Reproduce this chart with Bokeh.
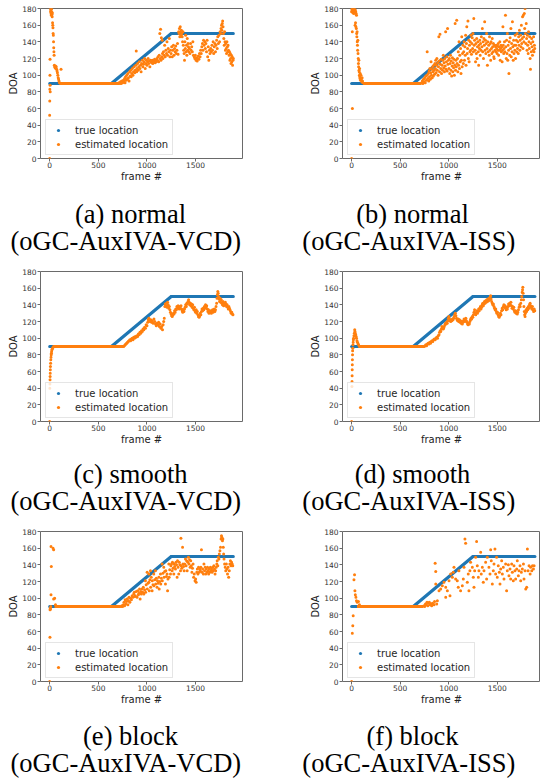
from bokeh.plotting import figure
from bokeh.models import Range1d, Legend, LegendItem, Title, FixedTicker
from bokeh.layouts import column, row
from bokeh.embed import file_html
from bokeh.resources import INLINE

BLUE = "#1f77b4"
ORANGE = "#ff7f0e"

# ---------------- data ----------------
x_ticks = [0, 500, 1000, 1500]
y_ticks = [0, 20, 40, 60, 80, 100, 120, 140, 160, 180]

true_frames = [0, 635, 1250, 1888]
true_doa = [90, 90, 150, 150]

# flat runs of the estimate at 90 deg: (start frame, end frame, value)
flat_a = (100, 715, 90)
flat_b = (118, 720, 90)
flat_c = (40, 755, 90)
flat_d = (80, 745, 90)
flat_e = (50, 730, 90)
flat_f = (55, 740, 90)

est_a = [(0,0),(0,52),(1,69),(2,83),(3,100),(4,119),(5,88),(6,80),(8,180),(10,176),(12,178),(14,174),(16,179),(18,172),(20,176),(22,180),(24,173),(26,170),(28,175),(30,163),(32,160),(34,157),(36,150),(38,148),(40,140),(42,133),(44,128),(46,124),(48,112),(52,110),(56,109),(60,111),(64,108),(68,110),(72,107),(76,105),(80,103),(84,100),(88,97),(92,95),(96,93),(100,91),(117,107),
(712,91),(720,90),(728,92),(735,90),(742,93),(750,91),(758,94),
(765,92),(770,96),(775,91),(780,98),(786,94),(792,100),(798,95),(804,102),(810,97),(816,93),(822,104),(828,99),
(834,106),(838,98),(844,102),(850,108),(856,100),(862,104),(868,110),(874,103),(880,106),(886,112),(890,129),(894,104),(898,108),
(904,114),(910,106),(916,110),(922,116),(928,108),(934,112),(940,104),(946,114),(952,118),(958,110),(964,113),
(970,116),(976,120),(982,108),(988,114),(994,118),(1000,112),(1006,116),(1012,120),(1018,114),(1024,117),(1030,110),(1036,118),
(1042,116),(1048,115),(1054,118),(1060,114),(1066,117),(1072,116),(1078,119),(1084,115),(1090,118),(1096,116),(1102,120),
(1108,118),(1114,122),(1120,116),(1126,124),(1132,150),(1136,120),(1140,155),(1144,118),(1148,145),(1152,122),(1156,142),(1160,126),
(1164,120),(1170,128),(1176,124),(1182,136),(1188,122),(1194,130),(1200,126),(1206,140),(1212,124),(1218,132),(1224,128),(1230,144),(1236,122),(1242,130),
(1248,126),(1254,134),(1260,122),(1266,130),(1272,136),(1278,124),(1284,132),(1290,128),(1296,135),(1302,126),(1308,130),(1314,138),(1320,125),(1326,152),
(1330,150),(1334,156),(1338,146),(1342,158),(1346,152),(1350,148),(1354,154),(1358,150),(1362,146),(1366,140),(1370,152),(1374,136),(1378,130),
(1382,126),(1386,118),(1390,140),(1394,132),(1398,148),(1402,128),(1406,136),(1410,124),(1414,144),(1418,130),(1422,138),(1426,134),(1430,128),
(1436,132),(1442,126),(1448,138),(1454,130),(1460,134),(1466,128),(1472,140),(1478,124),
(1486,122),(1492,120),(1498,124),(1504,118),(1510,121),(1516,117),(1522,120),(1528,123),(1534,119),(1540,126),(1546,122),
(1552,130),(1558,126),(1564,134),(1570,138),(1576,130),(1582,142),(1588,136),(1594,140),(1600,132),
(1606,138),(1612,128),(1618,142),(1624,122),(1630,134),(1636,118),(1642,130),(1648,126),
(1656,132),(1662,128),(1668,136),(1674,130),(1680,140),(1686,126),(1692,134),(1698,138),(1704,128),
(1710,136),(1716,142),(1722,132),(1728,146),(1734,138),(1740,148),(1746,140),(1752,152),
(1758,150),(1762,156),(1766,160),(1770,154),(1774,162),(1778,165),(1782,158),(1786,150),(1790,144),(1794,136),(1798,152),(1802,140),(1806,130),
(1810,138),(1814,132),(1818,126),(1822,140),(1826,134),(1830,128),(1834,136),(1838,130),
(1844,124),(1848,128),(1852,118),(1856,126),(1860,120),(1864,114),(1868,124),(1872,116),(1876,122),(1880,112),(1884,118),(1888,120)]

est_b = [(0,0),(8,60),(7,152),(0,176),(2,180),(4,178),(6,176),(8,179),(10,180),(12,177),(14,175),(16,178),(18,180),(20,176),(22,174),(24,178),(26,180),(28,177),(30,175),(32,179),(34,176),(36,160),(38,178),(40,163),(42,176),(44,158),(46,174),(48,156),(50,172),(52,150),(54,146),(56,152),(58,140),(60,136),(62,130),(64,142),(66,126),(68,120),(70,114),(72,110),(74,118),(76,106),(78,104),(80,100),(82,108),(84,98),(86,96),(88,102),(92,94),(96,100),(100,95),(104,92),(108,97),(112,93),(116,91),
(722,91),(728,93),(734,90),(740,95),(746,92),(752,97),(758,91),(764,99),(770,94),(776,100),(778,128),(784,96),(790,102),
(794,93),(798,105),(802,98),(806,108),(810,95),(814,103),(818,116),(822,100),(826,107),(830,97),(834,110),(838,104),(842,99),(846,112),(850,106),(854,101),(858,114),
(862,108),(866,118),(870,103),(874,112),(878,120),(882,106),(886,115),(890,100),(894,110),(898,146),(902,117),(906,104),(910,149),(914,113),(918,108),(922,119),(926,102),
(932,112),(936,106),(940,118),(944,124),(948,109),(952,115),(956,104),(960,120),(964,111),(968,152),(972,107),(976,116),(980,122),(984,105),(988,156),(992,113),(996,118),
(1002,108),(1006,120),(1010,102),(1014,114),(1018,124),(1022,106),(1026,117),(1030,99),(1034,111),(1038,121),(1042,104),(1046,115),(1050,109),(1054,119),(1058,100),(1062,112),(1066,162),(1070,106),(1074,118),(1078,110),(1082,166),(1086,114),
(1090,120),(1094,104),(1098,128),(1102,112),(1106,140),(1110,108),(1114,124),(1118,116),(1122,132),(1126,102),(1130,118),(1134,146),(1138,110),(1142,126),(1146,136),(1150,114),
(1154,128),(1158,140),(1162,118),(1166,134),(1170,124),(1174,148),(1178,112),(1182,138),(1186,158),(1190,126),(1194,132),(1198,165),(1202,120),(1206,142),(1210,116),(1214,136),(1218,128),
(1222,140),(1226,130),(1230,148),(1234,125),(1238,138),(1242,145),(1246,132),(1250,150),(1254,128),(1258,168),(1262,136),(1266,142),
(1272,130),(1276,116),(1280,138),(1284,126),(1288,144),(1292,120),(1296,134),(1300,140),(1304,128),(1308,112),(1312,136),(1316,132),(1320,142),(1324,124),(1328,138),(1332,130),(1336,146),
(1342,134),(1346,156),(1350,128),(1354,140),(1358,120),(1362,144),(1366,136),(1370,164),(1374,130),(1378,142),(1382,126),(1386,138),(1390,150),(1394,132),(1398,112),(1402,140),(1406,128),
(1412,136),(1416,124),(1420,146),(1424,130),(1428,138),(1432,118),(1436,140),(1440,132),(1444,126),(1448,144),(1452,134),(1456,128),(1460,138),(1464,122),(1468,120),(1472,136),(1476,130),
(1482,134),(1486,128),(1490,136),(1494,132),(1498,126),(1502,135),(1506,130),(1510,138),(1514,124),(1518,134),(1522,130),(1526,140),(1530,118),(1534,132),(1538,136),(1542,128),(1546,134),(1550,116),(1554,130),(1558,158),(1562,136),(1566,126),(1570,132),(1574,140),(1578,128),
(1584,172),(1588,134),(1592,120),(1596,142),(1600,126),(1604,150),(1608,118),(1612,136),(1616,130),(1620,102),(1624,140),(1628,124),(1632,145),(1636,132),(1640,156),(1644,122),(1648,138),(1652,128),(1656,164),(1660,134),(1664,118),(1668,142),(1672,126),(1676,136),(1680,130),(1684,148),(1688,120),
(1692,136),(1696,142),(1700,128),(1704,150),(1708,132),(1712,140),(1716,126),(1720,146),(1724,136),(1728,154),(1732,130),(1736,142),(1740,148),(1744,134),(1748,160),(1752,138),(1756,144),(1760,170),(1764,132),(1768,172),(1772,146),(1774,140),
(1778,174),(1782,156),(1786,180),(1790,150),(1794,138),(1798,162),(1802,144),(1806,130),(1810,148),(1814,136),(1818,126),(1822,152),(1826,140),(1830,132),(1834,146),(1838,120),(1842,107),(1846,138),(1850,128),(1854,144),(1858,134),(1862,124),(1866,140),(1870,130),(1874,146),(1878,128),(1882,136),(1886,132)]

est_c = [(0,0),(2,40),(3,45),(4,50),(5,54),(6,58),(7,62),(8,66),(10,70),(12,74),(14,77),(16,80),(18,82),(20,84),(23,86),(26,87),(30,88),(35,89),(40,90),
(760,90),(768,91),(776,92),(784,93),(792,94),(800,95),(808,96),(816,97),(824,98),(832,97),(840,99),(848,100),(856,98),(864,101),(872,100),(880,102),(888,101),(896,103),(904,102),(912,105),(920,104),(928,107),(936,106),(944,109),(952,108),(960,111),(968,110),(976,113),(984,112),(992,116),(1000,115),(1008,119),(1014,122),(1020,124),(1026,121),(1032,120),(1040,122),(1048,119),(1056,121),(1064,118),(1072,123),(1080,120),(1088,117),(1096,115),(1104,118),(1112,116),(1120,119),(1128,114),(1136,117),(1144,112),(1152,114),(1160,110),(1166,116),(1172,120),(1178,124),(1184,138),(1188,141),(1194,139),(1200,142),(1206,137),(1212,143),(1218,140),(1224,136),(1230,138),(1236,134),(1242,131),(1248,129),(1254,127),(1260,126),(1266,128),(1272,130),(1278,129),(1284,133),(1290,131),(1296,135),(1302,134),(1308,138),(1314,136),(1320,139),(1326,137),(1332,135),(1338,138),(1344,136),(1350,139),(1356,135),(1362,133),(1368,131),(1374,134),(1380,132),(1386,135),(1392,137),(1398,140),(1404,138),(1410,142),(1416,141),(1422,144),(1428,146),(1434,143),(1440,140),(1446,142),(1452,139),(1458,141),(1464,137),(1470,140),(1476,136),(1482,134),(1488,137),(1494,133),(1500,131),(1506,134),(1512,130),(1518,132),(1524,128),(1530,126),(1536,125),(1542,127),(1548,130),(1554,128),(1560,132),(1566,135),(1572,133),(1578,136),(1584,134),(1590,138),(1596,136),(1602,140),(1608,137),(1614,139),(1620,135),(1626,132),(1632,134),(1638,130),(1644,132),(1650,131),(1656,133),(1662,130),(1668,132),(1674,134),(1680,131),(1686,133),(1692,135),(1698,132),(1704,134),(1710,138),(1716,142),(1720,148),(1724,152),(1728,156),(1732,154),(1736,150),(1740,147),(1746,144),(1752,148),(1758,143),(1764,146),(1770,142),(1776,140),(1782,144),(1788,139),(1794,142),(1800,140),(1806,143),(1812,141),(1818,138),(1824,140),(1830,137),(1836,135),(1842,138),(1848,136),(1854,134),(1860,132),(1866,130),(1872,131),(1878,129),(1884,128)]

est_d = [(0,0),(3,42),(4,48),(5,55),(6,62),(7,68),(8,74),(9,80),(10,85),(12,88),(14,92),(16,95),(18,98),(20,100),(24,103),(28,106),(32,110),(34,108),(38,106),(42,104),(46,102),(50,100),(55,97),(60,95),(66,93),(72,92),(80,90),
(748,90),(756,91),(764,92),(772,91),(780,93),(788,94),(796,93),(804,95),(812,94),(820,96),(828,97),(836,96),(844,98),(852,99),(860,98),(868,100),(876,101),(884,100),(892,103),(900,104),(906,107),(912,109),(918,108),(924,111),(930,114),(936,113),(942,111),(948,112),(954,114),(960,116),(966,118),(972,117),(978,119),(984,118),(990,121),(996,124),(1002,126),(1008,123),(1014,121),(1020,120),(1026,122),(1032,121),(1038,123),(1044,122),(1050,124),(1056,126),(1062,128),(1068,130),(1074,127),(1080,124),(1086,122),(1092,121),(1098,123),(1104,120),(1110,122),(1116,119),(1122,121),(1128,118),(1134,120),(1140,117),(1146,119),(1152,121),(1158,123),(1164,120),(1170,122),(1176,124),(1182,121),(1188,119),(1194,117),(1200,116),(1206,118),(1212,117),(1218,120),(1224,122),(1230,124),(1236,123),(1242,126),(1248,125),(1254,128),(1260,131),(1266,134),(1272,130),(1278,128),(1284,131),(1290,133),(1296,130),(1302,132),(1308,135),(1314,133),(1320,136),(1326,138),(1332,135),(1338,137),(1344,140),(1350,142),(1356,139),(1362,141),(1368,144),(1374,142),(1380,145),(1386,143),(1392,146),(1398,144),(1404,147),(1410,145),(1416,148),(1422,146),(1428,150),(1432,151),(1436,147),(1442,144),(1448,142),(1454,140),(1460,141),(1466,138),(1472,136),(1478,134),(1484,135),(1490,132),(1496,130),(1502,131),(1508,128),(1514,126),(1520,125),(1526,127),(1532,130),(1538,128),(1544,133),(1550,136),(1556,134),(1562,138),(1568,140),(1574,137),(1580,139),(1586,136),(1592,134),(1598,137),(1604,135),(1610,138),(1616,141),(1622,139),(1628,142),(1634,140),(1640,143),(1646,139),(1652,136),(1658,138),(1664,135),(1670,137),(1676,133),(1682,131),(1688,133),(1694,130),(1700,132),(1706,129),(1712,131),(1718,134),(1724,137),(1730,140),(1736,138),(1742,142),(1748,146),(1752,150),(1756,155),(1760,158),(1763,161),(1766,154),(1770,146),(1774,138),(1778,132),(1782,128),(1786,126),(1790,130),(1796,134),(1802,132),(1808,136),(1814,134),(1820,138),(1826,136),(1832,140),(1838,142),(1844,139),(1850,137),(1856,135),(1862,138),(1868,134),(1874,132),(1880,135),(1886,133)]

est_e = [(0,0),(3,53),(4,86),(6,88),(8,87),(12,90),(14,104),(17,138),(14,162),(35,160),(41,158),(41,99),(52,100),(60,92),
(734,90),(742,91),(750,90),(758,92),(764,95),(770,91),(776,98),(782,93),(790,96),(798,99),(804,92),(810,97),(816,101),(824,95),(832,100),(840,98),(848,103),(856,101),(864,105),(870,107),(876,102),(881,103),(890,108),(899,101),(905,109),(912,104),(918,106),(924,111),(930,99),(936,108),(942,105),(950,111),(956,107),(962,113),(968,105),(976,110),(984,121),(986,107),(992,116),(1002,131),(1004,111),(1010,118),(1019,129),(1020,119),(1024,109),(1030,122),(1036,133),(1038,113),(1044,125),(1053,109),(1055,121),(1062,116),(1070,129),(1072,115),(1080,122),(1087,133),(1090,117),(1096,124),(1104,113),(1108,121),(1114,118),(1122,125),(1126,111),(1132,120),(1139,129),(1142,117),(1148,124),(1156,141),(1158,121),(1164,130),(1173,137),(1176,125),(1182,132),(1190,117),(1194,133),(1200,126),(1207,129),(1212,109),(1216,123),(1225,141),(1228,125),(1234,134),(1242,129),(1246,139),(1252,141),(1259,133),(1262,143),(1268,136),(1276,129),(1280,141),(1286,138),(1293,135),(1298,143),(1304,140),(1310,125),(1314,145),(1320,137),(1327,129),(1332,143),(1338,140),(1345,133),(1349,172),(1352,139),(1358,136),(1366,161),(1370,141),(1376,138),(1382,133),(1388,141),(1396,147),(1402,139),(1408,145),(1413,133),(1420,143),(1426,149),(1432,141),(1438,146),(1444,137),(1450,145),(1456,139),(1462,131),(1468,136),(1474,141),(1480,125),(1486,129),(1494,121),(1500,123),(1506,119),(1512,131),(1518,135),(1524,129),(1530,137),(1536,131),(1542,135),(1548,133),(1554,137),(1560,158),(1566,131),(1572,135),(1580,129),(1586,141),(1592,133),(1598,137),(1604,129),(1610,135),(1616,131),(1622,137),(1628,133),(1634,129),(1640,135),(1646,131),(1652,137),(1658,133),(1664,135),(1670,131),(1676,137),(1682,133),(1688,139),(1694,135),(1700,129),(1706,133),(1712,137),(1718,141),(1722,145),(1728,139),(1734,149),(1740,147),(1744,153),(1750,157),(1756,161),(1762,171),(1766,175),(1770,173),(1776,169),(1780,171),(1784,161),(1788,153),(1792,147),(1798,141),(1804,137),(1810,133),(1816,141),(1822,135),(1828,129),(1834,137),(1840,125),(1846,133),(1852,141),(1858,145),(1864,139),(1870,143),(1876,141),(1882,139)]

est_f = [(0,0),(7,58),(12,67),(16,79),(24,122),(30,128),(34,109),(38,104),(44,101),(50,97),(58,95),(70,96),(80,92),
(745,91),(752,90),(760,93),(768,92),(776,95),(784,91),(792,94),(800,95),(808,92),(816,93),(824,91),(832,94),(840,93),(848,92),(854,96),
(860,142),(866,132),(866,117),(876,93),(883,97),(900,109),(917,111),(934,115),(951,119),(969,113),(969,101),(986,109),(1003,121),(1013,103),(1020,129),(1037,125),(1047,131),(1054,137),(1071,123),(1088,121),(1098,113),(1105,133),(1122,109),(1140,115),(1150,123),(1157,137),(1167,171),(1174,166),(1191,119),(1201,129),(1208,109),(1218,133),(1225,143),(1243,137),(1253,125),(1260,113),(1267,133),(1277,149),(1287,168),(1294,139),(1305,125),(1311,133),(1329,155),(1335,129),(1346,137),(1356,119),(1363,133),(1380,143),(1390,123),(1397,149),(1414,137),(1425,129),(1432,158),(1438,145),(1449,117),(1459,133),(1466,141),(1476,159),(1483,129),(1493,149),(1500,125),(1510,139),(1521,131),(1528,117),(1535,135),(1545,145),(1552,129),(1562,137),(1569,123),(1586,141),(1596,109),(1603,133),(1614,140),(1620,127),(1631,135),(1638,123),(1648,141),(1655,131),(1665,121),(1672,139),(1682,133),(1689,123),(1700,135),(1706,145),(1717,127),(1724,133),(1734,139),(1741,121),(1748,131),(1758,135),(1769,141),(1775,123),(1786,133),(1793,111),(1803,113),(1810,159),(1817,133),(1827,139),(1838,129),(1844,137),(1855,133),(1862,139),(1872,135),(1879,139)]

captions = [
    ("(a) normal", "(oGC-AuxIVA-VCD)"),
    ("(b) normal", "(oGC-AuxIVA-ISS)"),
    ("(c) smooth", "(oGC-AuxIVA-VCD)"),
    ("(d) smooth", "(oGC-AuxIVA-ISS)"),
    ("(e) block", "(oGC-AuxIVA-VCD)"),
    ("(f) block", "(oGC-AuxIVA-ISS)"),
]

GRAY = "#6a6a6a"
CAP_PX = 26.5
# approximate advance widths (em) of the serif caption font, used to centre captions
CW = {"(": .333, ")": .333, " ": .25, "-": .333, "a": .444, "b": .5, "c": .444, "d": .5,
      "e": .444, "f": .333, "h": .5, "k": .5, "l": .278, "m": .778, "n": .5, "o": .5,
      "r": .333, "s": .389, "t": .278, "u": .5, "x": .5, "A": .722, "C": .667, "D": .722,
      "G": .722, "I": .333, "S": .556, "V": .722}


def text_w(s):
    return sum(CW.get(ch, .5) for ch in s) * CAP_PX


def make_panel(est, flat, cap, left_col, top, bottom, spacer):
    if left_col:
        w, bl, br, xr, fl, c1, c2 = 285, 40, 43, (-94, 1982), 40, 130, 127
    else:
        w, bl, br, xr, fl, c1, c2 = 255, 57, 0, (-94, 1945), 342, 412, 410
    p = figure(width=w, frame_height=150, output_backend="svg", toolbar_location=None,
               x_range=Range1d(*xr), y_range=Range1d(0, 180),
               min_border_left=bl, min_border_right=br, min_border_top=top,
               min_border_bottom=bottom)
    p.xgrid.visible = False
    p.ygrid.visible = False
    p.outline_line_color = GRAY
    p.outline_line_width = 1
    p.background_fill_color = "white"
    p.border_fill_color = "white"
    p.xaxis.ticker = FixedTicker(ticks=x_ticks)
    p.yaxis.ticker = FixedTicker(ticks=y_ticks)
    p.xaxis.axis_label = "frame #"
    p.yaxis.axis_label = "DOA"
    for ax in (p.xaxis[0], p.yaxis[0]):
        ax.axis_line_color = None
        ax.major_tick_line_color = GRAY
        ax.major_tick_out = 3
        ax.major_tick_in = 0
        ax.minor_tick_line_color = None
        ax.major_label_text_font = "DejaVu Sans"
        ax.major_label_text_font_size = "7.5px"
        ax.major_label_text_color = "#333333"
        ax.axis_label_text_font = "DejaVu Sans"
        ax.axis_label_text_font_size = "10px"
        ax.axis_label_text_font_style = "normal"
        ax.axis_label_text_color = "#222222"
    p.xaxis[0].major_label_standoff = 0
    p.xaxis[0].axis_label_standoff = 0
    p.yaxis[0].major_label_standoff = 1
    p.yaxis[0].axis_label_standoff = 0

    # true location
    p.line(true_frames, true_doa, line_width=3.2, color=BLUE)
    r_true = p.scatter(true_frames, true_doa, size=3, color=BLUE, line_color=None)
    # estimated location
    p.line([flat[0], flat[1]], [flat[2], flat[2]], line_width=3.2, color=ORANGE)
    xs = [e[0] for e in est]
    ys = [e[1] for e in est]
    r_est = p.scatter(xs, ys, size=3, color=ORANGE, line_color=None)

    legend = Legend(items=[LegendItem(label="true location", renderers=[r_true]),
                           LegendItem(label="estimated location", renderers=[r_est])],
                    location=(5, 3), label_text_font="DejaVu Sans", label_text_font_size="10px",
                    label_text_color="#262626", glyph_width=16, glyph_height=8, label_height=12,
                    label_standoff=9, padding=4, spacing=2, margin=0,
                    border_line_color="#cccccc", border_line_width=1,
                    background_fill_alpha=0.8)
    p.add_layout(legend, "center")

    gap = Title(text=" ", text_font_size="2px", standoff=spacer)
    t1 = Title(text=cap[0], align="left", offset=c1 - fl - text_w(cap[0]) / 2,
               vertical_align="bottom", standoff=0,
               text_font="Liberation Serif", text_font_size="%.1fpx" % CAP_PX,
               text_font_style="normal", text_color="black")
    t2 = Title(text=cap[1], align="left", offset=c2 - fl - text_w(cap[1]) / 2,
               vertical_align="top", standoff=-6,
               text_font="Liberation Serif", text_font_size="%.1fpx" % CAP_PX,
               text_font_style="normal", text_color="black")
    p.add_layout(gap, "below")
    p.add_layout(t1, "below")
    p.add_layout(t2, "below")
    return p


tops = [8, 4, 4]
bottoms = [109, 106, 100]
spacers = [8, 5, 7]
ests = [est_a, est_b, est_c, est_d, est_e, est_f]
flats = [flat_a, flat_b, flat_c, flat_d, flat_e, flat_f]
rows = []
for r in range(3):
    pl = make_panel(ests[2 * r], flats[2 * r], captions[2 * r], True, tops[r], bottoms[r], spacers[r])
    pr = make_panel(ests[2 * r + 1], flats[2 * r + 1], captions[2 * r + 1], False, tops[r], bottoms[r], spacers[r])
    rows.append(row(pl, pr))

layout = column(*rows)
open("out.html", "w").write(file_html(layout, INLINE))
